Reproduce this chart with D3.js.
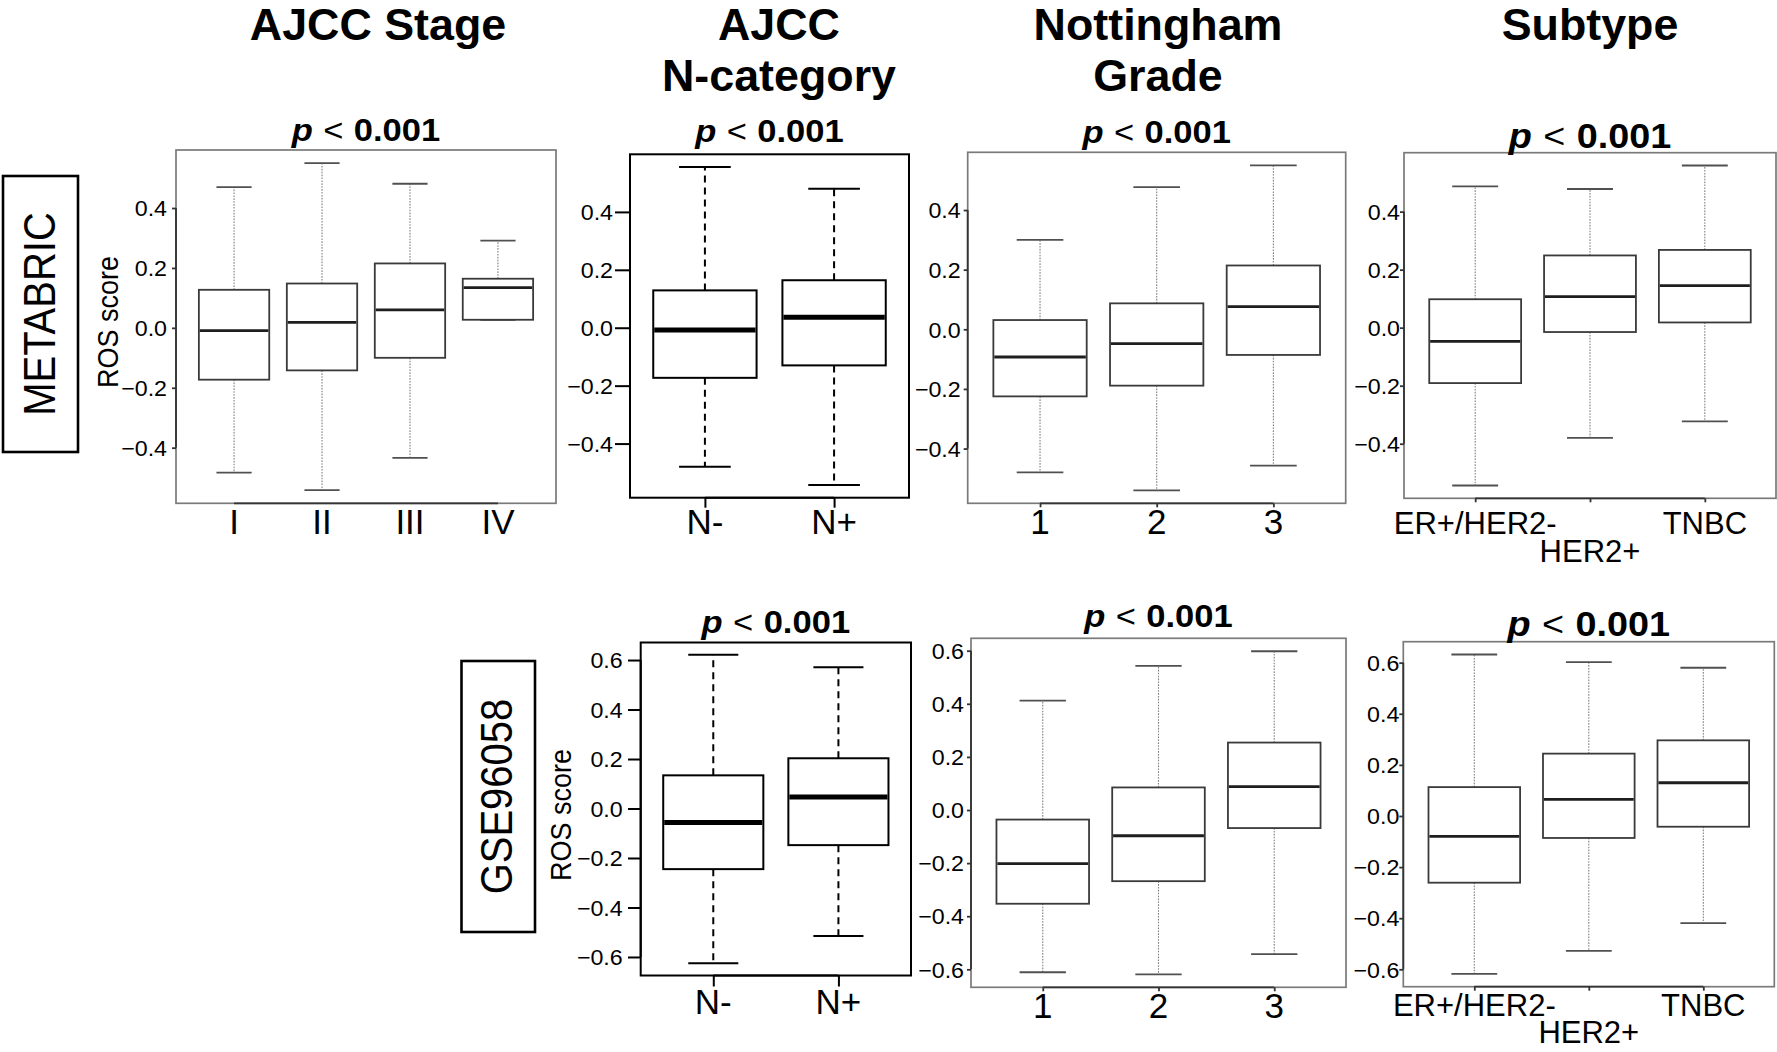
<!DOCTYPE html>
<html><head><meta charset="utf-8">
<script src="https://cdn.jsdelivr.net/npm/d3@7"></script>
<style>
body{margin:0;background:#fff}
svg{display:block}
text{font-family:"Liberation Sans",Arial,Helvetica,sans-serif;fill:#000}
</style>
</head><body>
<svg id="chart" width="1777" height="1052"></svg>
<script>
// ---------------- DATA ----------------
// categories
const stageCats   = ["I", "II", "III", "IV"];
const nodeCats    = ["N-", "N+"];
const gradeCats   = ["1", "2", "3"];
const subtypeCats = ["ER+/HER2-", "HER2+", "TNBC"];

// five-number summaries per group: [lower whisker, Q1, median, Q3, upper whisker]
const metabricStage   = [[-0.483, -0.173, -0.009, 0.127, 0.470],
                         [-0.542, -0.142,  0.018, 0.148, 0.550],
                         [-0.434, -0.100,  0.060, 0.215, 0.481],
                         [ 0.027,  0.027,  0.134, 0.164, 0.291]];
const metabricNode    = [[-0.480, -0.173, -0.008, 0.129, 0.555],
                         [-0.543, -0.130,  0.036, 0.164, 0.480]];
const metabricGrade   = [[-0.480, -0.225, -0.093, 0.031, 0.300],
                         [-0.540, -0.189, -0.048, 0.087, 0.477],
                         [-0.457, -0.086,  0.076, 0.214, 0.550]];
const metabricSubtype = [[-0.544, -0.191, -0.047, 0.098, 0.487],
                         [-0.380, -0.015,  0.107, 0.249, 0.478],
                         [-0.323,  0.018,  0.145, 0.268, 0.559]];
const gseNode         = [[-0.625, -0.245, -0.057, 0.134, 0.621],
                         [-0.515, -0.148,  0.046, 0.203, 0.571]];
const gseGrade        = [[-0.611, -0.353, -0.202, -0.036, 0.412],
                         [-0.619, -0.268, -0.097,  0.085, 0.543],
                         [-0.543, -0.068,  0.088,  0.254, 0.598]];
const gseSubtype      = [[-0.618, -0.261, -0.080, 0.113, 0.632],
                         [-0.528, -0.086,  0.065, 0.244, 0.602],
                         [-0.419, -0.042,  0.130, 0.296, 0.580]];

// tick values
const ticksMetabric = [-0.4, -0.2, 0.0, 0.2, 0.4];
const ticksGSE      = [-0.6, -0.4, -0.2, 0.0, 0.2, 0.4, 0.6];

// texts
const pValueText   = "0.001";
const yAxisTitle   = "ROS score";
const cohortNames  = ["METABRIC", "GSE96058"];
const columnTitles = [["AJCC Stage"], ["AJCC", "N-category"], ["Nottingham", "Grade"], ["Subtype"]];

// ---------------- STYLE / LAYOUT ----------------
const styles = {
  black: {frame:"#000", frameW:2, box:"#000", boxW:2, med:"#000", medW:5,
          whisk:"#000", whiskW:2, dash:"7,5", cap:"#000", capW:2, axis:"#000", axisW:2},
  gray:  {frame:"#7a7a7a", frameW:1.7, box:"#3a3a3a", boxW:1.8, med:"#1e1e1e", medW:2.8,
          whisk:"#808080", whiskW:1.1, dash:"1.6,1.3", cap:"#505050", capW:1.8, axis:"#333", axisW:1.8}
};

const panels = [
  {data: metabricStage,   cats: stageCats,   ticks: ticksMetabric, style:"gray",
   x0:176, x1:556, y0:150, y1:503.3, tickY:4, tickX:0, yOff:5, xLabY:534, xSize:35,
   pY:141, pSize:32},
  {data: metabricNode,    cats: nodeCats,    ticks: ticksMetabric, style:"black",
   x0:630, x1:909, y0:154.3, y1:497.7, tickY:15, tickX:10, yOff:17, xLabY:534, xSize:35,
   pY:141.5, pSize:32},
  {data: metabricGrade,   cats: gradeCats,   ticks: ticksMetabric, style:"gray",
   x0:967.7, x1:1345.7, y0:152.3, y1:503.3, tickY:4, tickX:4, yOff:3, xLabY:534, xSize:35,
   pY:142.5, pSize:32},
  {data: metabricSubtype, cats: subtypeCats, ticks: ticksMetabric, style:"gray",
   x0:1404, x1:1776, y0:152.7, y1:498.3, tickY:4, tickX:4, yOff:0, xLabY:534, xSize:31,
   stagger:28, pY:147.5, pSize:35},
  {data: gseNode,         cats: nodeCats,    ticks: ticksGSE, style:"black",
   x0:640.7, x1:911, y0:642.5, y1:975.5, tickY:12.7, tickX:11, yOff:18, xLabY:1014, xSize:35,
   pY:633, pSize:32},
  {data: gseGrade,        cats: gradeCats,   ticks: ticksGSE, style:"gray",
   x0:971, x1:1346, y0:638.3, y1:987.3, tickY:4, tickX:4, yOff:3, xLabY:1018, xSize:35,
   pY:627, pSize:32},
  {data: gseSubtype,      cats: subtypeCats, ticks: ticksGSE, style:"gray",
   x0:1403.3, x1:1774.3, y0:641.7, y1:986.7, tickY:4, tickX:4, yOff:0, xLabY:1016, xSize:31,
   stagger:27, pY:636, pSize:35}
];

const svg = d3.select("#chart");
const SX = 1.08;   // horizontal stretch of the original R graphics text

function label(parent, x, y, str, o) {
  o = o || {};
  const t = parent.append("text")
    .attr("transform", `translate(${x},${y}) scale(${o.sx || 1},1)` + (o.rot ? ` rotate(${o.rot})` : ""))
    .attr("text-anchor", o.anchor || "middle")
    .attr("font-size", o.size || 20)
    .attr("font-weight", o.weight || "normal")
    .text(str);
  if (o.dy) t.attr("dy", o.dy);
  return t;
}

function pValue(parent, cx, y, size) {
  const t = parent.append("text")
    .attr("transform", `translate(${cx},${y}) scale(${SX},1)`)
    .attr("text-anchor", "middle")
    .attr("font-size", size);
  t.append("tspan").attr("font-weight", "bold").attr("font-style", "italic").text("p");
  t.append("tspan").attr("dx", size * 0.3).attr("font-weight", "normal").text("<");
  t.append("tspan").attr("dx", size * 0.3).attr("font-weight", "bold").text(pValueText);
}

function drawPanel(c) {
  const n = c.cats.length;
  const S = styles[c.style];
  const x = d3.scaleLinear().domain([0.5 - 0.04 * n, n + 0.5 + 0.04 * n]).range([c.x0, c.x1]);
  const lo = d3.min(c.data, d => d[0]), hi = d3.max(c.data, d => d[4]);
  const pad = (hi - lo) * 0.04;
  const y = d3.scaleLinear().domain([lo - pad, hi + pad]).range([c.y1, c.y0]);
  const g = svg.append("g");

  const grp = g.selectAll("g.grp").data(c.data).join("g").attr("class", "grp");
  // whiskers
  grp.append("line").attr("x1", (d, i) => x(i + 1)).attr("x2", (d, i) => x(i + 1))
    .attr("y1", d => y(d[3])).attr("y2", d => y(d[4]))
    .attr("stroke", S.whisk).attr("stroke-width", S.whiskW).attr("stroke-dasharray", S.dash);
  grp.append("line").attr("x1", (d, i) => x(i + 1)).attr("x2", (d, i) => x(i + 1))
    .attr("y1", d => y(d[1])).attr("y2", d => y(d[0]))
    .attr("stroke", S.whisk).attr("stroke-width", S.whiskW).attr("stroke-dasharray", S.dash);
  // caps
  [0, 4].forEach(k => {
    grp.append("line").attr("x1", (d, i) => x(i + 0.8)).attr("x2", (d, i) => x(i + 1.2))
      .attr("y1", d => y(d[k])).attr("y2", d => y(d[k]))
      .attr("stroke", S.cap).attr("stroke-width", S.capW);
  });
  // box
  grp.append("rect").attr("x", (d, i) => x(i + 0.6)).attr("width", (d, i) => x(i + 1.4) - x(i + 0.6))
    .attr("y", d => y(d[3])).attr("height", d => y(d[1]) - y(d[3]))
    .attr("fill", "#fff").attr("stroke", S.box).attr("stroke-width", S.boxW);
  // median
  grp.append("line").attr("x1", (d, i) => x(i + 0.6) + S.boxW / 2).attr("x2", (d, i) => x(i + 1.4) - S.boxW / 2)
    .attr("y1", d => y(d[2])).attr("y2", d => y(d[2]))
    .attr("stroke", S.med).attr("stroke-width", S.medW);

  // frame
  g.append("rect").attr("x", c.x0).attr("y", c.y0).attr("width", c.x1 - c.x0).attr("height", c.y1 - c.y0)
    .attr("fill", "none").attr("stroke", S.frame).attr("stroke-width", S.frameW);

  // y axis
  const ya = g.append("g").attr("transform", `translate(${c.x0},0)`)
    .call(d3.axisLeft(y).tickValues(c.ticks).tickSize(c.tickY).tickFormat(""));
  ya.select(".domain").remove();
  ya.selectAll(".tick line").attr("stroke", S.axis).attr("stroke-width", S.axisW);
  ya.append("line").attr("x1", 0).attr("x2", 0)
    .attr("y1", y(c.ticks[0])).attr("y2", y(c.ticks[c.ticks.length - 1]))
    .attr("stroke", S.axis).attr("stroke-width", S.axisW);
  const fmt = d3.format(".1f");
  ya.selectAll(".tick").each(function (v) {
    label(d3.select(this), -(c.yOff + (c.style === "black" ? 0 : c.tickY)), 0, fmt(v),
      {anchor: "end", size: 21.5, sx: SX, dy: "0.36em"});
  });

  // x axis
  const idx = d3.range(1, n + 1);
  const xa = g.append("g").attr("transform", `translate(0,${c.y1})`)
    .call(d3.axisBottom(x).tickValues(idx).tickSize(c.tickX).tickFormat(""));
  xa.select(".domain").remove();
  xa.selectAll(".tick line").attr("stroke", S.axis).attr("stroke-width", S.axisW);
  xa.append("line").attr("x1", x(1)).attr("x2", x(n)).attr("y1", 0).attr("y2", 0)
    .attr("stroke", S.axis).attr("stroke-width", S.axisW);
  idx.forEach((v, i) => {
    const extra = (c.stagger && i === 1) ? c.stagger : 0;
    label(xa, x(v), c.xLabY - c.y1 + extra, c.cats[i], {size: c.xSize});
  });

  // p-value
  pValue(svg, (c.x0 + c.x1) / 2, c.pY, c.pSize);
}

panels.forEach(drawPanel);

// column titles
const titleX = [378, 779, 1158, 1590];
columnTitles.forEach((lines, i) => {
  lines.forEach((s, j) => label(svg, titleX[i], 39.5 + j * 51, s, {size: 43.5, weight: "bold", sx: 1.03}));
});

// y-axis titles
label(svg, 118, 322, yAxisTitle, {size: 27, sx: 1.1, rot: -90});
label(svg, 570.5, 815, yAxisTitle, {size: 27, sx: 1.1, rot: -90});

// cohort boxes
const cohortBoxes = [{x0:3, x1:78, y0:176, y1:452}, {x0:461.5, x1:535, y0:661, y1:932}];
cohortBoxes.forEach((b, i) => {
  svg.append("rect").attr("x", b.x0).attr("y", b.y0).attr("width", b.x1 - b.x0).attr("height", b.y1 - b.y0)
    .attr("fill", "none").attr("stroke", "#000").attr("stroke-width", 2.6);
  label(svg, (b.x0 + b.x1) / 2 + 14, (b.y0 + b.y1) / 2, cohortNames[i], {size: 40, sx: 1.1, rot: -90});
});
</script>
</body></html>
